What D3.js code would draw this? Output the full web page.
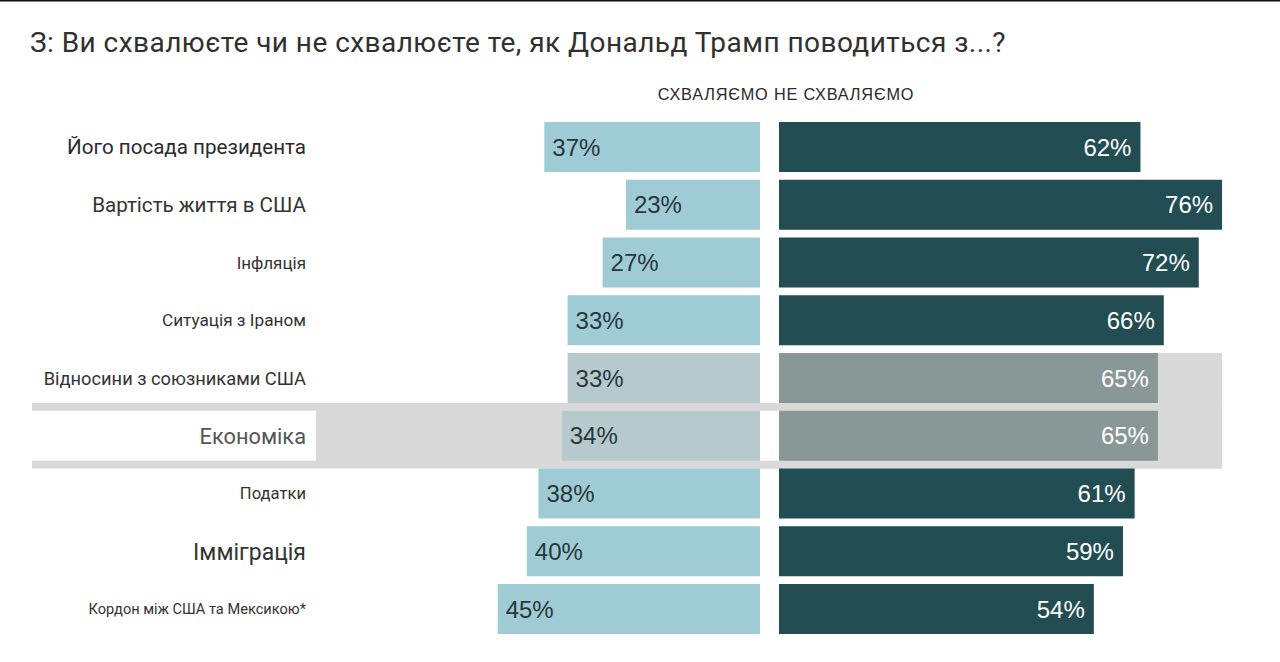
<!DOCTYPE html>
<html>
<head>
<meta charset="utf-8">
<script src="https://cdn.jsdelivr.net/npm/d3@7"></script>
<style>
  html, body { margin: 0; padding: 0; background: #fff; }
  svg { display: block; }
</style>
</head>
<body>
<div id="chart"></div>
<script>
// Data
var title = "З: Ви схвалюєте чи не схвалюєте те, як Дональд Трамп поводиться з...?";
var header = "СХВАЛЯЄМО НЕ СХВАЛЯЄМО";
var categories = [
    "Його посада президента",
    "Вартість життя в США",
    "Інфляція",
    "Ситуація з Іраном",
    "Відносини з союзниками США",
    "Економіка",
    "Податки",
    "Імміграція",
    "Кордон між США та Мексикою*"
];
var approve    = [37, 23, 27, 33, 33, 34, 38, 40, 45];
var disapprove = [62, 76, 72, 66, 65, 65, 61, 59, 54];
var highlighted = ["Відносини з союзниками США", "Економіка"];

// Label styling (font size per row, as in the screenshot)
var labelStyle = {
    "Його посада президента": {size: 20.6, color: "#2b2b2b"},
    "Вартість життя в США": {size: 20.6, color: "#333"},
    "Інфляція": {size: 17, color: "#333"},
    "Ситуація з Іраном": {size: 17.2, color: "#333"},
    "Відносини з союзниками США": {size: 18.3, color: "#333"},
    "Економіка": {size: 21.8, color: "#555"},
    "Податки": {size: 16.6, color: "#333"},
    "Імміграція": {size: 23, color: "#333"},
    "Кордон між США та Мексикою*": {size: 14.6, color: "#333"}
};

var width = 1280, height = 662;
var center = {left: 760, right: 779};
var colors = {
    approve: "#9fcbd4",
    disapprove: "#224d53",
    approveHi: "#b6c9cd",
    disapproveHi: "#8a9797",
    band: "#d9d9d9"
};

var rows = categories.map(function (c, i) {
    return {name: c, yes: approve[i], no: disapprove[i], hi: highlighted.indexOf(c) >= 0};
});

var svg = d3.select("#chart").append("svg")
    .attr("width", width)
    .attr("height", height)
    .style("font-family", "Roboto, 'Noto Sans', sans-serif");

// Scales
var x = d3.scaleLinear().domain([0, 100]).range([0, 583]);
var y = d3.scaleBand()
    .domain(categories)
    .range([122, 634])
    .paddingInner(0.134)
    .paddingOuter(0);

// Top border line
svg.append("rect")
    .attr("x", 0).attr("y", 0)
    .attr("width", width).attr("height", 1.5)
    .attr("fill", "#111");

// Title
svg.append("text")
    .attr("x", 30)
    .attr("y", 52)
    .attr("font-size", 28)
    .attr("letter-spacing", 0.45)
    .attr("fill", "#303030")
    .text(title);

// Column header
svg.append("text")
    .attr("x", 786)
    .attr("y", 100)
    .attr("text-anchor", "middle")
    .attr("font-size", 16.3)
    .attr("letter-spacing", 0.8)
    .attr("fill", "#2a2a2a")
    .style("font-family", "'Liberation Sans', Arial, sans-serif")
    .text(header);

// Highlight band behind the highlighted rows
var hiRows = rows.filter(function (d) { return d.hi; });
var maxNo = d3.max(disapprove);
var step = y.step(), gap = step - y.bandwidth();
if (hiRows.length) {
    var first = hiRows[0], last = hiRows[hiRows.length - 1];
    // right block spanning all highlighted rows
    svg.append("rect")
        .attr("x", center.left)
        .attr("y", y(first.name))
        .attr("width", center.right + x(maxNo) - center.left)
        .attr("height", y(last.name) + y.bandwidth() + gap - y(first.name))
        .attr("fill", colors.band);
    // full-width band for the last highlighted row
    svg.append("rect")
        .attr("x", 32)
        .attr("y", y(last.name) - gap)
        .attr("width", center.right + x(maxNo) - 32)
        .attr("height", y.bandwidth() + 2 * gap)
        .attr("fill", colors.band);
    // white gap column between bars in highlighted rows
    svg.selectAll(".gapcol")
        .data(hiRows)
        .enter().append("rect")
        .attr("class", "gapcol")
        .attr("x", center.left)
        .attr("y", function (d) { return y(d.name); })
        .attr("width", center.right - center.left)
        .attr("height", y.bandwidth())
        .attr("fill", "#fff");
    // white label box for the last highlighted row
    svg.append("rect")
        .attr("x", 32)
        .attr("y", y(last.name))
        .attr("width", 284)
        .attr("height", y.bandwidth())
        .attr("fill", "#fff");
}

// Rows
var g = svg.selectAll(".row")
    .data(rows)
    .enter().append("g")
    .attr("class", "row");

// Approve bars (left)
g.append("rect")
    .attr("x", function (d) { return center.left - x(d.yes); })
    .attr("y", function (d) { return y(d.name); })
    .attr("width", function (d) { return x(d.yes); })
    .attr("height", y.bandwidth())
    .attr("fill", function (d) { return d.hi ? colors.approveHi : colors.approve; });

// Disapprove bars (right)
g.append("rect")
    .attr("x", center.right)
    .attr("y", function (d) { return y(d.name); })
    .attr("width", function (d) { return x(d.no); })
    .attr("height", y.bandwidth())
    .attr("fill", function (d) { return d.hi ? colors.disapproveHi : colors.disapprove; });

// Value labels
g.append("text")
    .attr("x", function (d) { return center.left - x(d.yes) + 8; })
    .attr("y", function (d) { return y(d.name) + y.bandwidth() / 2; })
    .attr("dy", "0.36em")
    .attr("font-size", 24)
    .attr("fill", "#27373b")
    .style("font-family", "'Liberation Sans', Arial, sans-serif")
    .text(function (d) { return d.yes + "%"; });

g.append("text")
    .attr("x", function (d) { return center.right + x(d.no) - 9; })
    .attr("y", function (d) { return y(d.name) + y.bandwidth() / 2; })
    .attr("dy", "0.36em")
    .attr("text-anchor", "end")
    .attr("font-size", 24)
    .attr("fill", "#fff")
    .style("font-family", "'Liberation Sans', Arial, sans-serif")
    .text(function (d) { return d.no + "%"; });

// Category labels
g.append("text")
    .attr("x", 306)
    .attr("y", function (d) { return y(d.name) + y.bandwidth() / 2; })
    .attr("dy", "0.36em")
    .attr("text-anchor", "end")
    .attr("font-size", function (d) { return labelStyle[d.name].size; })
    .attr("fill", function (d) { return labelStyle[d.name].color; })
    .text(function (d) { return d.name; });
</script>
</body>
</html>
